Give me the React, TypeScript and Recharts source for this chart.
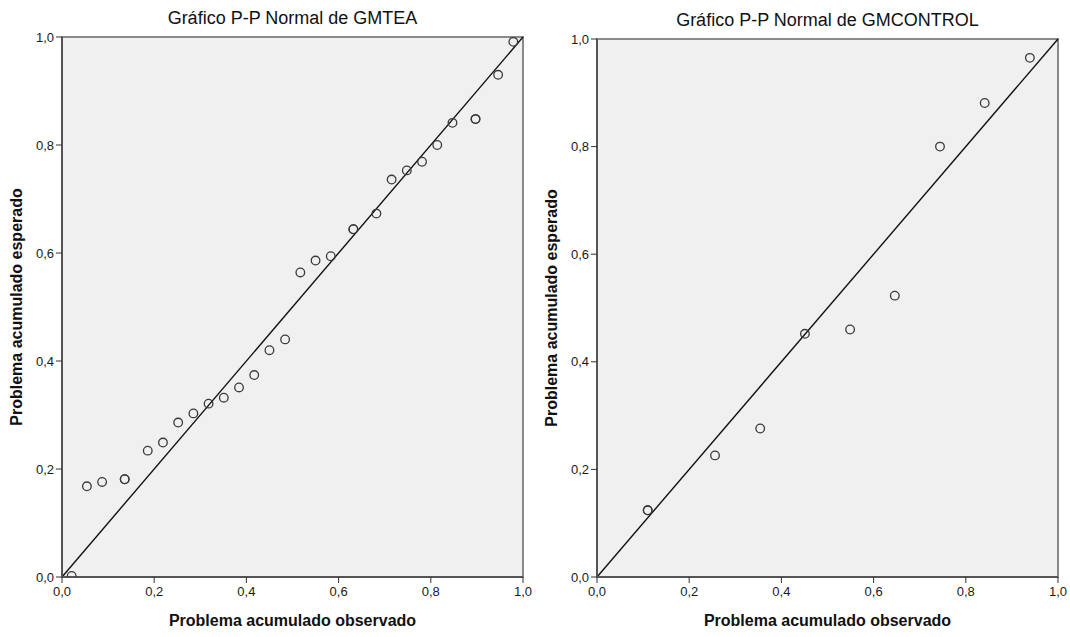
import React from "react"
import { ScatterChart, Scatter, XAxis, YAxis, ReferenceArea, ReferenceLine } from "recharts"

// P-P normal plot values (ties appear twice)
const teaObserved = [
  0.021, 0.054, 0.087, 0.136, 0.136, 0.186, 0.219, 0.252, 0.285, 0.318, 0.351, 0.384, 0.417, 0.45, 0.484,
  0.517, 0.55, 0.583, 0.632, 0.632, 0.682, 0.715, 0.748, 0.781, 0.814, 0.847, 0.897, 0.897, 0.946, 0.979,
]
const teaExpected = [
  0.002, 0.168, 0.176, 0.181, 0.181, 0.234, 0.249, 0.286, 0.303, 0.321, 0.332, 0.351, 0.374, 0.42, 0.44,
  0.564, 0.586, 0.594, 0.644, 0.644, 0.673, 0.736, 0.753, 0.769, 0.8, 0.841, 0.848, 0.848, 0.93, 0.991,
]

const controlObserved = [0.11, 0.11, 0.256, 0.354, 0.451, 0.549, 0.646, 0.744, 0.841, 0.939]
const controlExpected = [0.124, 0.124, 0.226, 0.276, 0.452, 0.46, 0.523, 0.8, 0.881, 0.965]

const axisTicks = [0, 0.2, 0.4, 0.6, 0.8, 1]
const diagonal = [0, 1]

const titles = ["Gráfico P-P Normal de GMTEA", "Gráfico P-P Normal de GMCONTROL"]
const xTitle = "Problema acumulado observado"
const yTitle = "Problema acumulado esperado"

const FONT = '"Liberation Sans", Arial, sans-serif'

const fmt = (v: number) => v.toFixed(1).replace(".", ",")

const toPoints = (xs: number[], ys: number[]) => xs.map((x, i) => ({ x, y: ys[i] }))

const OpenCircle = (props: any) => (
  <circle cx={props.cx} cy={props.cy} r={4.3} fill="none" stroke="#3a3a3a" strokeWidth={1.3} />
)

interface PanelProps {
  left: number
  top: number
  title: string
  data: { x: number; y: number }[]
}

function PPPanel({ left, top, title, data }: PanelProps) {
  const tickStyle = { fontSize: 13, fill: "#1a1a1a", fontFamily: FONT }
  return (
    <div style={{ position: "absolute", left, top: 0, width: 535, height: 637 }}>
      <div
        style={{
          position: "absolute",
          left: 62,
          width: 461,
          top: top - 29,
          textAlign: "center",
          fontFamily: FONT,
          fontSize: 18,
          color: "#111",
          whiteSpace: "nowrap",
        }}
      >
        {title}
      </div>
      <div
        style={{
          position: "absolute",
          left: 17,
          top: (top + 577) / 2,
          transform: "translate(-50%, -50%) rotate(-90deg)",
          fontFamily: FONT,
          fontSize: 16,
          fontWeight: "bold",
          color: "#111",
          whiteSpace: "nowrap",
        }}
      >
        {yTitle}
      </div>
      <div
        style={{
          position: "absolute",
          left: 62,
          width: 461,
          top: 612,
          textAlign: "center",
          fontFamily: FONT,
          fontSize: 16,
          fontWeight: "bold",
          color: "#111",
          whiteSpace: "nowrap",
        }}
      >
        {xTitle}
      </div>
      <ScatterChart width={535} height={637} margin={{ top, right: 12, bottom: 30, left: 22 }}>
        <XAxis
          type="number"
          dataKey="x"
          domain={[0, 1]}
          ticks={axisTicks}
          tickFormatter={fmt}
          allowDataOverflow
          height={30}
          tickSize={6}
          tickMargin={4}
          tick={tickStyle}
          axisLine={{ stroke: "#555", strokeWidth: 2 }}
          tickLine={{ stroke: "#333" }}
        />
        <YAxis
          type="number"
          dataKey="y"
          domain={[0, 1]}
          ticks={axisTicks}
          tickFormatter={fmt}
          allowDataOverflow
          width={40}
          tickSize={6}
          tickMargin={2}
          tick={tickStyle}
          axisLine={{ stroke: "#555", strokeWidth: 2 }}
          tickLine={{ stroke: "#333" }}
        />
        <ReferenceArea
          x1={0}
          x2={1}
          y1={0}
          y2={1}
          fill="#f0f0f0"
          fillOpacity={1}
          stroke="#8a8a8a"
          strokeWidth={2}
        />
        <ReferenceLine
          segment={[
            { x: diagonal[0], y: diagonal[0] },
            { x: diagonal[1], y: diagonal[1] },
          ]}
          stroke="#111"
          strokeWidth={1.4}
        />
        <Scatter data={data} shape={OpenCircle} isAnimationActive={false} />
      </ScatterChart>
    </div>
  )
}

export default function App() {
  return (
    <div style={{ position: "absolute", left: 0, top: 0, width: 1070, height: 637, background: "#fff" }}>
      <PPPanel left={0} top={37} title={titles[0]} data={toPoints(teaObserved, teaExpected)} />
      <PPPanel left={535} top={39} title={titles[1]} data={toPoints(controlObserved, controlExpected)} />
    </div>
  )
}
